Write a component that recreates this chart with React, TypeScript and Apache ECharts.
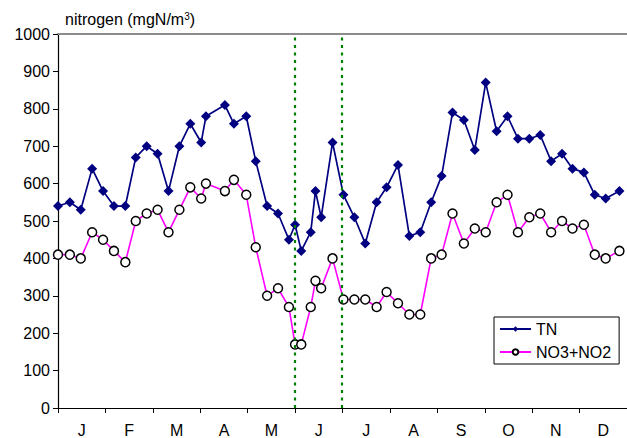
import React, { useEffect, useRef } from "react";
import * as echarts from "echarts";

// x positions in months from 1 January (0 = start of Jan, 12 = end of Dec)
const sampleMonths = [
  0, 0.25, 0.48, 0.72, 0.95, 1.18, 1.42, 1.64, 1.87, 2.1, 2.33, 2.56, 2.79, 3.02,
  3.12, 3.52, 3.71, 3.97, 4.17, 4.41, 4.64, 4.87, 5.0, 5.13, 5.33, 5.43, 5.55,
  5.79, 6.02, 6.25, 6.48, 6.72, 6.93, 7.17, 7.41, 7.64, 7.87, 8.09, 8.32, 8.56,
  8.79, 9.02, 9.25, 9.48, 9.7, 9.94, 10.17, 10.4, 10.63, 10.85, 11.09, 11.32,
  11.55, 11.84,
];

const tnValues = [
  540, 550, 530, 640, 580, 540, 540, 670, 700, 680, 580, 700, 760, 710, 780, 810,
  760, 780, 660, 540, 520, 450, 490, 420, 470, 580, 510, 710, 570, 510, 440, 550,
  590, 650, 460, 470, 550, 620, 790, 770, 690, 870, 740, 780, 720, 720, 730, 660,
  680, 640, 630, 570, 560, 580,
];

const no3Values = [
  410, 410, 400, 470, 450, 420, 390, 500, 520, 530, 470, 530, 590, 560, 600, 580,
  610, 570, 430, 300, 320, 270, 170, 170, 270, 340, 320, 400, 290, 290, 290, 270,
  310, 280, 250, 250, 400, 410, 520, 440, 480, 470, 550, 570, 470, 510, 520, 470,
  500, 480, 490, 410, 400, 420,
];

const monthLabels = ["J", "F", "M", "A", "M", "J", "J", "A", "S", "O", "N", "D"];
const markerMonths = [5.0, 5.98];
const yTicks = { min: 0, max: 1000, interval: 100 };

const FONT = "'Liberation Sans', Arial, sans-serif";

export default function App() {
  const ref = useRef<HTMLDivElement>(null);

  useEffect(() => {
    if (!ref.current) return;
    const chart = echarts.init(ref.current, undefined, { renderer: "svg" });
    const tnData = sampleMonths.map((m, i) => [m, tnValues[i]]);
    const no3Data = sampleMonths.map((m, i) => [m, no3Values[i]]);

    chart.setOption({
      animation: false,
      backgroundColor: "#fff",
      textStyle: { fontFamily: FONT, color: "#000" },
      title: {
        text: "nitrogen (mgN/m{sup|3})",
        left: 60,
        top: 6,
        textStyle: {
          fontFamily: FONT,
          fontSize: 16,
          fontWeight: "normal",
          color: "#000",
          rich: {
            sup: { fontFamily: FONT, fontSize: 10, verticalAlign: "top", color: "#000", padding: [0, 0, 6, 0] },
          },
        },
      },
      grid: {
        left: 58,
        top: 34,
        width: 573.5,
        height: 375,
        show: false,
      },
      legend: {
        orient: "vertical",
        left: 494,
        top: 317,
        borderColor: "#000",
        borderWidth: 1,
        padding: [4, 8, 4, 5],
        itemGap: 7,
        itemWidth: 31,
        itemHeight: 7,
        textStyle: { fontFamily: FONT, fontSize: 16, color: "#000" },
        data: ["TN", "NO3+NO2"],
      },
      xAxis: [
        {
          type: "value",
          min: 0,
          max: 12,
          interval: 1,
          axisLine: { show: true, lineStyle: { color: "#000", width: 1 } },
          axisTick: { show: true, length: 5, lineStyle: { color: "#000" } },
          axisLabel: { show: false },
          splitLine: { show: false },
        },
        {
          type: "category",
          data: monthLabels,
          position: "bottom",
          boundaryGap: true,
          axisLine: { show: false },
          axisTick: { show: false },
          axisLabel: { fontFamily: FONT, fontSize: 16, color: "#000", margin: 14 },
          splitLine: { show: false },
        },
        {
          type: "value",
          min: 0,
          max: 12,
          interval: 1,
          position: "top",
          axisLine: { show: true, lineStyle: { color: "#8c8c8c", width: 2 } },
          axisTick: { show: false },
          axisLabel: { show: false },
          splitLine: { show: false },
        },
      ],
      yAxis: {
        type: "value",
        min: yTicks.min,
        max: yTicks.max,
        interval: yTicks.interval,
        axisLine: { show: true, lineStyle: { color: "#000", width: 1.2 } },
        axisTick: { show: true, length: 5, lineStyle: { color: "#000" } },
        axisLabel: {
          fontFamily: FONT,
          fontSize: 16,
          color: "#000",
          margin: 8,
          formatter: (v: number) => String(v),
        },
        splitLine: { show: false },
      },
      series: [
        {
          name: "TN",
          type: "line",
          xAxisIndex: 0,
          data: tnData,
          symbol: "diamond",
          symbolSize: 10,
          lineStyle: { color: "#000080", width: 1.7 },
          itemStyle: { color: "#000080" },
          markLine: {
            silent: true,
            symbol: "none",
            label: { show: false },
            lineStyle: { color: "#008000", width: 2.2, type: [3, 4.5] },
            data: markerMonths.map((m) => ({ xAxis: m })),
          },
          z: 2,
        },
        {
          name: "NO3+NO2",
          type: "line",
          xAxisIndex: 0,
          data: no3Data,
          symbol: "circle",
          symbolSize: 9,
          lineStyle: { color: "#FF00FF", width: 1.6 },
          itemStyle: { color: "#fff", borderColor: "#000", borderWidth: 1.5 },
          z: 3,
        },
      ],
    });

    return () => chart.dispose();
  }, []);

  return (
    <div
      ref={ref}
      style={{ position: "absolute", left: 0, top: 0, width: 627, height: 438 }}
    />
  );
}
